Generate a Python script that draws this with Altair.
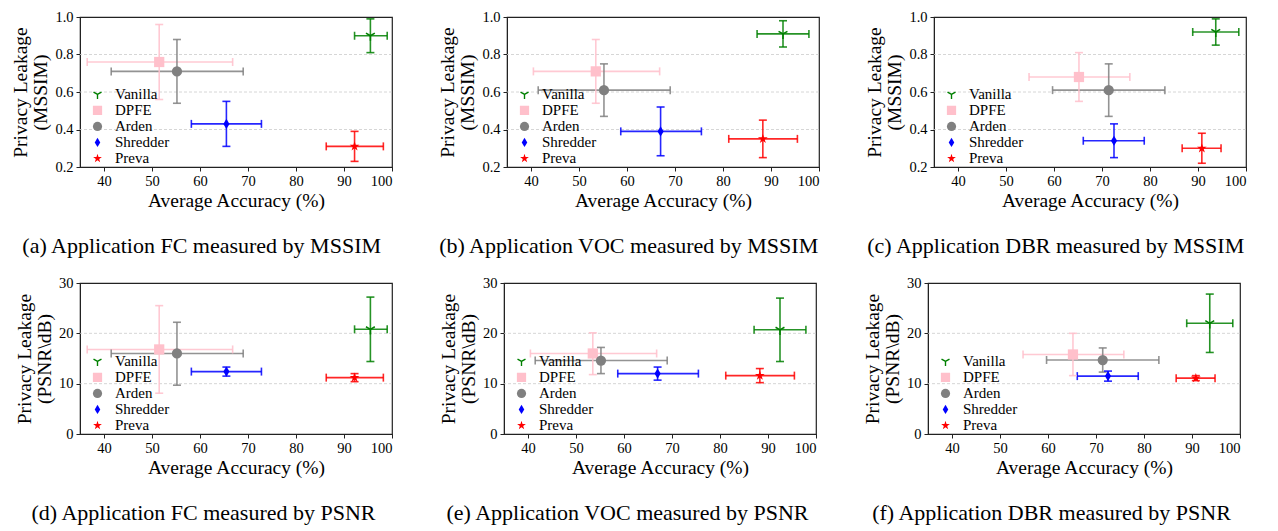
import altair as alt
import pandas as pd

FONT = "Liberation Serif"

methods = ["Vanilla", "DPFE", "Arden", "Shredder", "Preva"]
colors = ["green", "pink", "gray", "blue", "red"]
TRI_DOWN = ("M0.15,1L0.15,0.087L0.941,-0.37L0.791,-0.63L0,-0.173L-0.791,-0.63"
            "L-0.941,-0.37L-0.15,0.087L-0.15,1Z")
DIAMOND = "M0,-1L0.6,0L0,1L-0.6,0Z"
STAR = ("M0,-1L0.224,-0.309L0.951,-0.309L0.363,0.118L0.588,0.809L0,0.382"
        "L-0.588,0.809L-0.363,0.118L-0.951,-0.309L-0.224,-0.309Z")
shapes = [TRI_DOWN, "square", "circle", DIAMOND, STAR]

# Average accuracy (%) per application: centre, low end, high end
acc_fc = [95.5, 51.5, 55.2, 65.5, 92.2]
acc_fc_lo = [92.2, 36.5, 41.5, 58.2, 86.3]
acc_fc_hi = [99.0, 66.8, 69.0, 72.8, 98.2]

acc_voc = [92.5, 53.5, 55.2, 67.0, 88.3]
acc_voc_lo = [87.1, 40.5, 41.5, 58.7, 81.2]
acc_voc_hi = [97.9, 66.8, 69.0, 75.5, 95.5]

acc_dbr = [93.7, 65.2, 71.4, 72.5, 90.8]
acc_dbr_lo = [88.9, 54.8, 59.7, 66.1, 86.7]
acc_dbr_hi = [98.5, 75.8, 83.1, 78.8, 94.8]

# Privacy leakage, MSSIM
mssim_fc = [0.90, 0.76, 0.71, 0.43, 0.31]
mssim_fc_lo = [0.81, 0.56, 0.54, 0.31, 0.23]
mssim_fc_hi = [0.99, 0.96, 0.88, 0.55, 0.39]

mssim_voc = [0.91, 0.71, 0.61, 0.39, 0.35]
mssim_voc_lo = [0.84, 0.54, 0.47, 0.26, 0.25]
mssim_voc_hi = [0.98, 0.88, 0.75, 0.52, 0.45]

mssim_dbr = [0.92, 0.68, 0.61, 0.34, 0.30]
mssim_dbr_lo = [0.85, 0.55, 0.47, 0.25, 0.22]
mssim_dbr_hi = [0.99, 0.81, 0.75, 0.43, 0.38]

# Privacy leakage, PSNR (dB)
psnr_fc = [20.8, 16.8, 16.0, 12.4, 11.2]
psnr_fc_lo = [14.4, 8.1, 9.7, 11.5, 10.4]
psnr_fc_hi = [27.2, 25.5, 22.2, 13.3, 12.0]

psnr_voc = [20.7, 16.0, 14.6, 12.0, 11.6]
psnr_voc_lo = [14.4, 11.8, 12.0, 10.7, 10.2]
psnr_voc_hi = [27.0, 20.1, 17.2, 13.3, 13.0]

psnr_dbr = [22.0, 15.8, 14.7, 11.5, 11.1]
psnr_dbr_lo = [16.2, 11.6, 12.3, 10.5, 10.6]
psnr_dbr_hi = [27.8, 20.0, 17.1, 12.5, 11.6]

x_ticks = [40, 50, 60, 70, 80, 90, 100]
mssim_ticks = [0.2, 0.4, 0.6, 0.8, 1.0]
mssim_grid = [0.4, 0.6, 0.8]
psnr_ticks = [0, 10, 20, 30]
psnr_grid = [10, 20]

captions = [
    "(a) Application FC measured by MSSIM",
    "(b) Application VOC measured by MSSIM",
    "(c) Application DBR measured by MSSIM",
    "(d) Application FC measured by PSNR",
    "(e) Application VOC measured by PSNR",
    "(f) Application DBR measured by PSNR",
]


def make_df(x, xlo, xhi, y, ylo, yhi):
    return pd.DataFrame({"method": methods, "col": colors, "x": x, "xlo": xlo,
                         "xhi": xhi, "y": y, "ylo": ylo, "yhi": yhi})


def panel(df, ydomain, yticks, ygrid, ytitle, yfmt, caption, h):
    base = alt.Chart(df)
    cscale = alt.Scale(domain=methods, range=colors)
    sscale = alt.Scale(domain=methods, range=shapes)
    xs = alt.Scale(domain=[35, 100], nice=False, zero=False)
    ys = alt.Scale(domain=ydomain, nice=False, zero=False)
    xaxis = alt.Axis(values=x_ticks, title="Average Accuracy (%)", grid=False)
    yaxis = alt.Axis(values=yticks, title=ytitle, format=yfmt, grid=False)
    legend = alt.Legend(title=None, orient="none", legendX=10, legendY=h - 80,
                        labelFontSize=15, labelFont=FONT, labelColor="black",
                        symbolSize=85, rowPadding=0, clipHeight=14.8, labelOffset=10)
    col = alt.Color("col:N", scale=None)

    grid = alt.Chart(pd.DataFrame({"g": ygrid})).mark_rule(
        color="#cccccc", strokeDash=[3, 2], strokeWidth=0.8).encode(
        y=alt.Y("g:Q", scale=ys, axis=yaxis))

    xerr = base.mark_rule(strokeWidth=1.6, opacity=0.85).encode(
        x=alt.X("xlo:Q", scale=xs, axis=xaxis), x2="xhi:Q",
        y=alt.Y("y:Q", scale=ys, axis=yaxis), color=col)
    yerr = base.mark_rule(strokeWidth=1.6, opacity=0.85).encode(
        x=alt.X("x:Q", scale=xs, axis=xaxis),
        y=alt.Y("ylo:Q", scale=ys, axis=yaxis), y2="yhi:Q", color=col)
    caps = []
    for xf, yf, ori in [("xlo", "y", "vertical"), ("xhi", "y", "vertical"),
                        ("x", "ylo", "horizontal"), ("x", "yhi", "horizontal")]:
        caps.append(base.mark_tick(orient=ori, size=8, thickness=1.6, opacity=0.85).encode(
            x=alt.X(f"{xf}:Q", scale=xs, axis=xaxis),
            y=alt.Y(f"{yf}:Q", scale=ys, axis=yaxis), color=col))
    pts = base.mark_point(filled=True, size=105, opacity=1).encode(
        x=alt.X("x:Q", scale=xs, axis=xaxis),
        y=alt.Y("y:Q", scale=ys, axis=yaxis),
        fill=alt.Fill("method:N", scale=cscale, legend=legend),
        shape=alt.Shape("method:N", scale=sscale, legend=legend),
    )
    return alt.layer(grid, xerr, yerr, *caps, pts).properties(
        width=312, height=h,
        title=alt.TitleParams(caption, orient="bottom", anchor="middle", frame="bounds",
                              font=FONT, fontSize=22, fontWeight="normal", offset=26),
    )


mssim_title = ["Privacy Leakage", "(MSSIM)"]
psnr_title = ["Privacy Leakage", "(PSNR\\dB)"]

pa = panel(make_df(acc_fc, acc_fc_lo, acc_fc_hi, mssim_fc, mssim_fc_lo, mssim_fc_hi),
           [0.2, 1.0], mssim_ticks, mssim_grid, mssim_title, ".1f", captions[0], 150)
pb = panel(make_df(acc_voc, acc_voc_lo, acc_voc_hi, mssim_voc, mssim_voc_lo, mssim_voc_hi),
           [0.2, 1.0], mssim_ticks, mssim_grid, mssim_title, ".1f", captions[1], 150)
pc = panel(make_df(acc_dbr, acc_dbr_lo, acc_dbr_hi, mssim_dbr, mssim_dbr_lo, mssim_dbr_hi),
           [0.2, 1.0], mssim_ticks, mssim_grid, mssim_title, ".1f", captions[2], 150)
pd_ = panel(make_df(acc_fc, acc_fc_lo, acc_fc_hi, psnr_fc, psnr_fc_lo, psnr_fc_hi),
            [0, 30], psnr_ticks, psnr_grid, psnr_title, "d", captions[3], 151)
pe = panel(make_df(acc_voc, acc_voc_lo, acc_voc_hi, psnr_voc, psnr_voc_lo, psnr_voc_hi),
           [0, 30], psnr_ticks, psnr_grid, psnr_title, "d", captions[4], 151)
pf = panel(make_df(acc_dbr, acc_dbr_lo, acc_dbr_hi, psnr_dbr, psnr_dbr_lo, psnr_dbr_hi),
           [0, 30], psnr_ticks, psnr_grid, psnr_title, "d", captions[5], 151)

indep = dict(x="independent", y="independent", fill="independent",
             shape="independent")
row1 = alt.hconcat(pa, pb, pc, spacing=43).resolve_scale(**indep)
row2 = alt.hconcat(pd_, pe, pf, spacing=43).resolve_scale(**indep)
chart = alt.vconcat(row1, row2, spacing=16).resolve_scale(**indep).properties(
    padding={"left": 2, "top": 0, "right": 0, "bottom": 0}
).configure(font=FONT).configure_view(
    stroke="#222222", strokeWidth=1.2
).configure_axis(
    labelFont=FONT, titleFont=FONT, labelFontSize=14.5, titleFontSize=19.5,
    titleFontWeight="normal", labelColor="black", titleColor="black",
    domainColor="#222222", tickColor="#222222", tickSize=4, titlePadding=4,
    labelPadding=3,
).configure_axisY(titleLineHeight=20)

chart.save("out.html", embed_options={"renderer": "svg", "actions": False})
